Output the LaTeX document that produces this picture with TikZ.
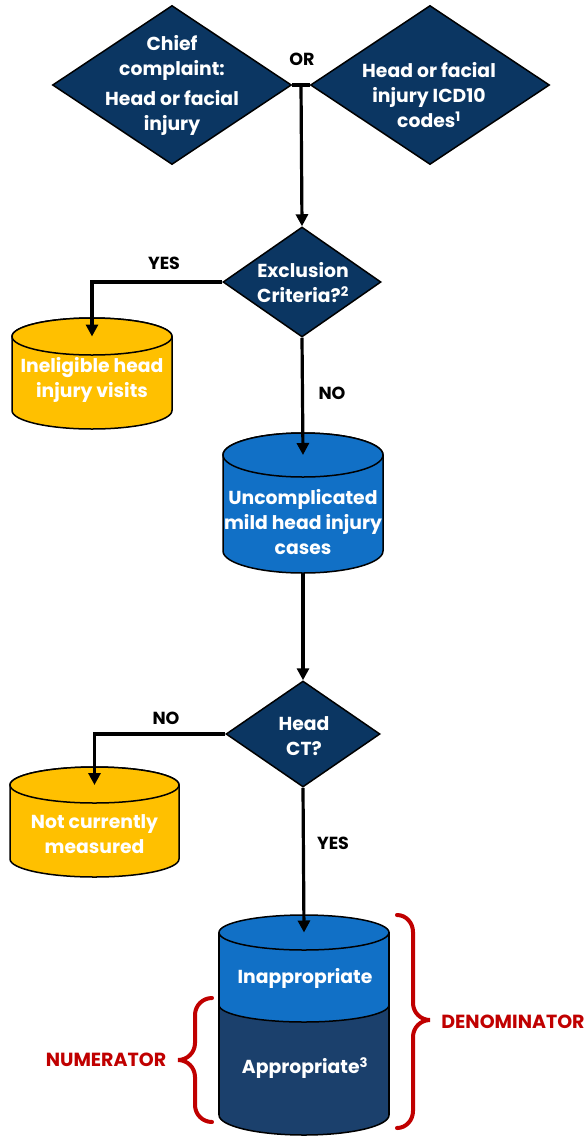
\documentclass[tikz,border=0pt]{standalone}
\usepackage{fontspec}
\setmainfont{Poppins}
\usetikzlibrary{arrows.meta,shapes.geometric,calc}
\definecolor{navy}{HTML}{0B3662}
\definecolor{cblue}{HTML}{1170C6}
\definecolor{cyellow}{HTML}{FFC000}
\definecolor{cdark}{HTML}{1B406C}
\definecolor{cred}{HTML}{C00000}
\tikzset{
  shapeline/.style={draw=black, line width=1.5pt},
  decision/.style={diamond, shapeline, fill=navy, inner sep=0pt},
  whitetext/.style={text=white, align=center, font=\bfseries\fontsize{18.8}{25}\selectfont, inner sep=0pt},
  blacklabel/.style={text=black, font=\bfseries\fontsize{17.5}{20}\selectfont, inner sep=0pt},
  redlabel/.style={text=cred, font=\bfseries\fontsize{19}{22}\selectfont, inner sep=0pt},
  flow/.style={line width=3.2pt, draw=black, -{Triangle[length=12pt,width=12pt]}},
  flowplain/.style={line width=3.2pt, draw=black},
  bracepath/.style={draw=cred, line width=4pt, line cap=round}
}
\newcommand{\cylshape}[7]{%
  \draw[shapeline, fill=#7] ({#2-#5},{-(#3+#6)}) -- ({#2-#5},{-(#4-#6)})
     arc[start angle=180, end angle=360, x radius=#5, y radius=#6]
     -- ({#2+#5},{-(#3+#6)})
     arc[start angle=0, end angle=180, x radius=#5, y radius=#6] -- cycle;
  \draw[shapeline, fill=#7] (#2,{-(#3+#6)}) ellipse[x radius=#5, y radius=#6];
  \coordinate (#1top) at (#2,{-(#3+#6)});
  \coordinate (#1bot) at (#2,{-#4});
}
\begin{document}
\begin{tikzpicture}[x=1pt,y=1pt]
\useasboundingbox (0,0) rectangle (586,-1138);

% top decisions
\node[decision, minimum width=239pt, minimum height=159pt] (d1) at (172,-85) {};
\node[decision, minimum width=239pt, minimum height=159pt] (d2) at (430,-85) {};
\node[whitetext] (t1) at (172,-85) {Chief\\complaint:\\[5pt]Head or facial\\injury};
\node[whitetext] (t2) at (429,-95) {Head or facial\\injury ICD10\\codes\textsuperscript{1}};
\node[blacklabel] (or) at (302,-59) {OR};

% exclusion
\node[decision, minimum width=158pt, minimum height=110pt] (ex) at (302,-282) {};
\node[whitetext] (tex) at (303,-283) {Exclusion\\Criteria?\textsuperscript{2}};

% cylinders
\cylshape{yA}{92}{318}{429}{80}{18.5}{cyellow}
\node[whitetext] (tyA) at (92,-380) {Ineligible head\\injury visits};
\cylshape{bl}{303}{433}{573}{80}{22}{cblue}
\node[whitetext] (tbl) at (303,-522) {Uncomplicated\\mild head injury\\cases};

% head CT
\node[decision, minimum width=154pt, minimum height=106pt] (ct) at (303,-734) {};
\node[whitetext] (tct) at (304,-736) {Head\\CT?};
\cylshape{yB}{94.5}{767}{877}{84.5}{18}{cyellow}
\node[whitetext] (tyB) at (94.5,-834) {Not currently\\measured};

% stacked cylinder
\draw[shapeline, fill=cdark] (219,-932.5) -- (219,-1115)
   arc[start angle=180, end angle=360, x radius=85, y radius=20]
   -- (389,-932.5) -- cycle;
\fill[cblue] (219,-932.5) -- (219,-1005)
   arc[start angle=180, end angle=360, x radius=85, y radius=17]
   -- (389,-932.5) -- cycle;
\draw[shapeline] (219,-1005) arc[start angle=180, end angle=360, x radius=85, y radius=17];
\draw[shapeline] (219,-932.5) -- (219,-1115);
\draw[shapeline] (389,-932.5) -- (389,-1115);
\draw[shapeline, fill=cblue] (304,-932.5) ellipse[x radius=85, y radius=17.5];
\coordinate (sttop) at (304,-932.5);
\node[whitetext] (tin) at (305,-978) {Inappropriate};
\node[whitetext] (tap) at (305,-1068) {Appropriate\textsuperscript{3}};

% connectors
\draw[flowplain] (d1.east) -- (d2.west);
\coordinate (jn) at ($(d1.east)!0.5!(d2.west)$);
\draw[flow] (jn) -- (ex.north);
\draw[flow] (ex.west) -| (yAtop);
\node[blacklabel] (lyes1) at (164,-263) {YES};
\draw[flow] (ex.south) -- (bltop);
\node[blacklabel] (lno1) at (332,-393) {NO};
\draw[flow] (blbot) -- (ct.north);
\draw[flow] (ct.west) -| (yBtop);
\node[blacklabel] (lno2) at (166,-718) {NO};
\draw[flow] (ct.south) -- (sttop);
\node[blacklabel] (lyes2) at (333,-843) {YES};

% braces
\draw[bracepath] (397,-915) to[out=0,in=90] (413,-932) -- (413,-1003)
   to[out=-90,in=180] (430,-1020) to[out=180,in=90] (413,-1037) -- (413,-1111)
   to[out=-90,in=0] (397,-1128);
\draw[bracepath] (212,-998) to[out=180,in=90] (195,-1015) -- (195,-1043)
   to[out=-90,in=0] (178,-1060) to[out=0,in=90] (195,-1077) -- (195,-1105)
   to[out=-90,in=180] (212,-1122);
\node[redlabel] (den) at (513,-1022) {DENOMINATOR};
\node[redlabel] (num) at (106,-1060) {NUMERATOR};
\end{tikzpicture}
\end{document}
